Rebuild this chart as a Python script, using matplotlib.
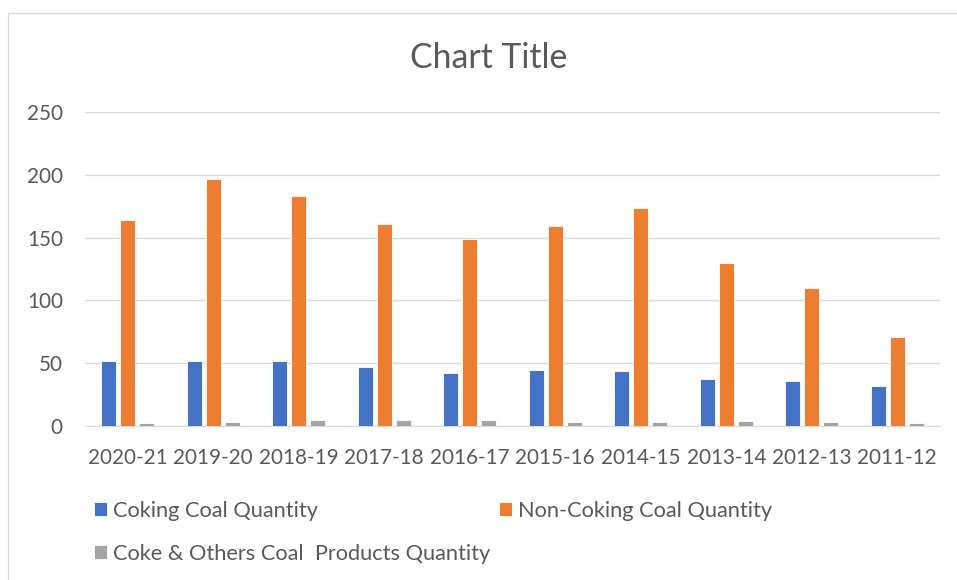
import matplotlib.pyplot as plt
import numpy as np
from matplotlib.patches import Rectangle

plt.rcParams['font.family'] = ['Lato', 'DejaVu Sans']

# data
years = ['2020-21', '2019-20', '2018-19', '2017-18', '2016-17',
         '2015-16', '2014-15', '2013-14', '2012-13', '2011-12']
coking = [51.5, 52, 52, 47.2, 42, 44.6, 43.8, 37.2, 35.8, 31.8]
non_coking = [164, 196.7, 183, 160.8, 148.9, 159.2, 173.6, 129.8, 109.9, 70.9]
coke_others = [2.4, 3, 5, 4.5, 4.5, 3.2, 3.5, 4.2, 3.2, 2.4]

series_names = ['Coking Coal Quantity', 'Non-Coking Coal Quantity',
                'Coke & Others Coal  Products Quantity']
colors = ['#4472C4', '#ED7D31', '#A5A5A5']
txt = '#595959'

fig = plt.figure(figsize=(9.57, 5.8), dpi=100)
ax = fig.add_axes([85 / 957, 1 - 426 / 580, (940 - 85) / 957, (426 - 112) / 580])

# chart border
fig.patches.append(Rectangle((8 / 957, -0.01), 1, 1 - 13 / 580 + 0.01,
                             transform=fig.transFigure, fill=False,
                             edgecolor='#d9d9d9', linewidth=1))

x = np.arange(len(years))
w = 0.175
step = 0.222
bars = []
for i, (vals, c) in enumerate(zip([coking, non_coking, coke_others], colors)):
    b = ax.bar(x + (i - 1) * step, vals, width=w, color=c,
               edgecolor='white', linewidth=0.6, label=series_names[i], zorder=3)
    bars.append(b)

ax.set_xlim(-0.5, len(years) - 0.5)
ax.set_ylim(0, 250)
ax.set_yticks([0, 50, 100, 150, 200, 250])
ax.set_xticks(x)
ax.set_xticklabels(years)
ax.grid(axis='y', color='#d9d9d9', linewidth=1, zorder=0)
for s in ['top', 'right', 'left']:
    ax.spines[s].set_visible(False)
ax.spines['bottom'].set_color('#d9d9d9')
ax.tick_params(length=0, labelsize=14.9, colors=txt)
ax.tick_params(axis='x', pad=15.5)
ax.tick_params(axis='y', pad=16)

fig.text(489 / 957, 1 - 58 / 580, 'Chart Title', ha='center', va='center',
         fontsize=24.3, color=txt)

# legend: row-wise order
handles = [bars[0], bars[2], bars[1]]
labels = [series_names[0], series_names[2], series_names[1]]
leg = fig.legend(handles, labels, ncol=2, loc='upper left',
                 bbox_to_anchor=(74 / 957, 1 - 481 / 580), frameon=False,
                 fontsize=15.7, handlelength=0.6, handleheight=0.6,
                 handletextpad=0.27, columnspacing=0.4, labelspacing=1.05)
for t in leg.get_texts():
    t.set_color(txt)

fig.savefig('out.png', dpi=100)
